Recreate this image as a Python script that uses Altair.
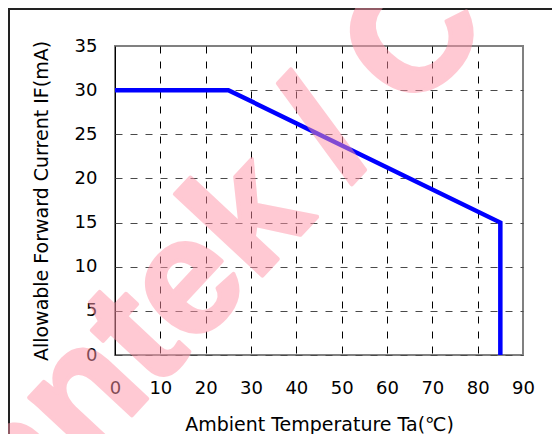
import altair as alt
import pandas as pd

# ---- data ----
temperature = [0, 25, 85, 85]
current = [30, 30, 15, 0]
x_ticks = [0, 10, 20, 30, 40, 50, 60, 70, 80, 90]
y_ticks = [0, 5, 10, 15, 20, 25, 30, 35]
x_title = "Ambient Temperature Ta(℃)"
y_title = "Allowable Forward Current IF(mA)"
watermark = ["antek / C"]

df = pd.DataFrame({"Ta": temperature, "IF": current, "idx": list(range(len(temperature)))})
wm = pd.DataFrame({"t": watermark})

W, H = 408, 309
FONT = "DejaVu Sans"

x_axis = alt.Axis(
    values=x_ticks, title=x_title, grid=True, ticks=False, domain=False,
    labelPadding=24, labelFontSize=18, labelFont=FONT, labelColor="#000", labelFlush=False,
    titleFont=FONT, titleFontSize=19, titleFontWeight="normal", titleColor="#000",
    titleX=204, titleY=75, titleAlign="center", titleBaseline="alphabetic",
    gridColor="#000", gridWidth=1,
    gridDash={"condition": {"test": "datum.value == 0", "value": []}, "value": [7, 8]},
    gridOpacity={"condition": {"test": "datum.value == 90", "value": 0}, "value": 1},
)
y_axis = alt.Axis(
    values=y_ticks, title=y_title, grid=True, ticks=False, domain=False,
    labelPadding=18, labelFontSize=18, labelFont=FONT, labelColor="#000", labelFlush=False,
    titleFont=FONT, titleFontSize=19, titleFontWeight="normal", titleColor="#000",
    titleX=-74, titleY=H / 2, titleAngle=270, titleAlign="center", titleBaseline="middle",
    gridColor="#4a4a4a", gridWidth=1, gridDash=[7, 8],
    gridOpacity={"condition": {"test": "datum.value == 35", "value": 0}, "value": 1},
)

line = alt.Chart(df).mark_line(color="#0000FF", strokeWidth=4.5, strokeJoin="miter", strokeCap="butt").encode(
    x=alt.X("Ta:Q", scale=alt.Scale(domain=[0, 90], nice=False, zero=False), axis=x_axis),
    y=alt.Y("IF:Q", scale=alt.Scale(domain=[0, 35], nice=False), axis=y_axis),
    order=alt.Order("idx:Q"),
)

frame_top = alt.Chart(wm).mark_rule(color="#222", strokeWidth=2).encode(
    x=alt.value(-110), x2=alt.value(W + 40), y=alt.value(-37)
)
frame_left = alt.Chart(wm).mark_rule(color="#222", strokeWidth=2).encode(
    x=alt.value(-106), y=alt.value(-40), y2=alt.value(H + 100)
)

mark_wm = alt.Chart(wm).mark_text(
    font="Liberation Sans", fontWeight="bold", fontSize=165, angle=313,
    align="left", baseline="alphabetic", fill="#FF94A8", opacity=0.5,
    stroke="#FF94A8", strokeWidth=4, strokeJoin="round",
).encode(x=alt.value(-92), y=alt.value(486), text="t:N")

chart = alt.layer(line, frame_top, frame_left, mark_wm).properties(
    width=W, height=H,
    background="white",
    autosize=alt.AutoSizeParams(type="none"),
    padding={"left": 107, "top": 38, "right": 29, "bottom": 79},
).configure_view(stroke="#808080", strokeWidth=2)

chart.save("out.html", embed_options={"renderer": "svg", "actions": False})
